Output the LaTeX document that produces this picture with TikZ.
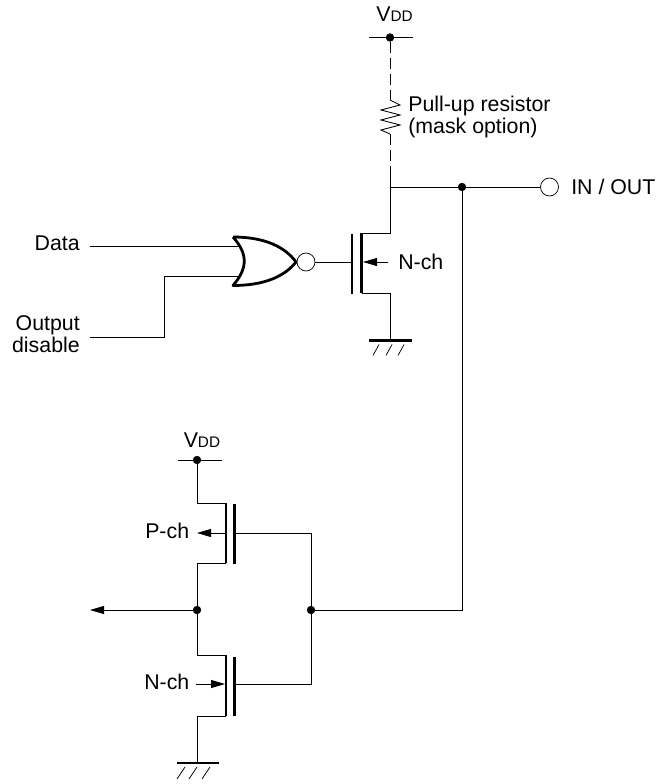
\documentclass[tikz,border=0pt]{standalone}
\usepackage{fontspec}
\setmainfont{Liberation Sans}
\usetikzlibrary{arrows.meta}
\tikzstyle{dot}=[inner sep=0pt, draw, shape=circle, fill=black, minimum size=5.8pt]
\tikzstyle{bubble}=[inner sep=0pt, draw, shape=circle, fill=white, minimum size=13.5pt, line width=0.55pt]
\tikzstyle{lbl}=[inner sep=0pt, font=\fontsize{16}{17}\selectfont]
\tikzstyle{wire}=[line width=0.65pt]
\tikzstyle{heavy}=[line width=2.1pt]
\tikzstyle{hatch}=[line width=0.55pt]
\tikzstyle{opt}=[line width=0.65pt, dash pattern=on 8.5pt off 3.5pt]
\tikzset{>={Triangle[length=10.5pt,width=6pt]}}
\newcommand{\vdd}{V{\fontsize{11.5}{11.5}\selectfont DD}}

\begin{document}
\begin{tikzpicture}[x=0.75pt, y=-0.75pt]
\useasboundingbox (0,0) rectangle (656,784);
% the upper supply and pull-up
\node[dot] (V0) at (390,37.5) {};
\coordinate (V0L) at (369,37.5);
\coordinate (V0R) at (413,37.5);
\coordinate (RT) at (390,100);
\coordinate (RB) at (390,134);
\coordinate (J0) at (390,172);
\node[lbl, anchor=base west] (V0T) at (376,22) {\vdd};
\node[lbl, anchor=base west, align=left] (RL0) at (408,112) {Pull-up resistor};
\node[lbl, anchor=base west, align=left] (RL1) at (408,134) {(mask option)};
% the output line
\coordinate (J1) at (390,187);
\node[dot] (J2) at (462,187) {};
\node[bubble] (IO) at (549.5,187) {};
\node[lbl, anchor=base west] (IOT) at (571,195) {IN / OUT};
% the output transistor
\coordinate (D0) at (390,233);
\coordinate (D0C) at (361.5,233);
\coordinate (S0C) at (361.5,293);
\coordinate (S0) at (390,293);
\coordinate (G0T) at (352,234);
\coordinate (G0B) at (352,293.5);
\coordinate (G0M) at (352,262);
\coordinate (A0) at (388,262);
\coordinate (A0E) at (363,262);
\node[lbl, anchor=base west] (N0T) at (398,269) {N-ch};
% the ground of the output transistor
\coordinate (E0) at (390,340.5);
\coordinate (E0L) at (369,340.5);
\coordinate (E0R) at (412,340.5);
% the gate
\coordinate (OT) at (233,237);
\coordinate (OB) at (233,285.5);
\coordinate (OE) at (296,262);
\node[bubble] (B0) at (306,262) {};
\coordinate (DI) at (90,246);
\coordinate (DE) at (238,246);
\coordinate (DO) at (90,337);
\coordinate (DU) at (164,337);
\coordinate (DV) at (164,276);
\coordinate (DF) at (238,276);
\node[lbl, anchor=base east] (DT) at (80,250) {Data};
\node[lbl, anchor=base east] (OT0) at (80,330) {Output};
\node[lbl, anchor=base east] (OT1) at (80,352) {disable};
% the lower supply and the P-ch transistor
\node[dot] (V1) at (197,460) {};
\coordinate (V1L) at (178,460);
\coordinate (V1R) at (222,460);
\node[lbl, anchor=base west] (V1T) at (183.5,447) {\vdd};
\coordinate (P0) at (197,503);
\coordinate (P0C) at (226,503);
\coordinate (P1C) at (226,563);
\coordinate (P1) at (197,563);
\coordinate (P0M) at (226,533);
\coordinate (P0A) at (197,533);
\coordinate (G1T) at (234.5,504);
\coordinate (G1B) at (234.5,563.5);
\coordinate (G1M) at (234.5,533);
\coordinate (G1E) at (311,533);
\node[lbl, anchor=base west] (PT) at (145,538) {P-ch};
% the input line
\node[dot] (J3) at (197,610) {};
\node[dot] (J4) at (311,610) {};
\coordinate (J5) at (462,610);
\coordinate (OA) at (90,610);
% the N-ch transistor
\coordinate (Q0) at (197,655);
\coordinate (Q0C) at (226,655);
\coordinate (Q1C) at (226,716);
\coordinate (Q1) at (197,716);
\coordinate (Q0A) at (196,684);
\coordinate (Q0M) at (225,684);
\coordinate (G2T) at (234.5,656.5);
\coordinate (G2B) at (234.5,716);
\coordinate (G2M) at (234.5,684);
\coordinate (G2E) at (311,684);
\node[lbl, anchor=base west] (N1T) at (144,689) {N-ch};
% the lower ground
\coordinate (E1) at (197,763);
\coordinate (E1L) at (177,763);
\coordinate (E1R) at (219,763);
% the wires
\draw[wire] (V0L) -- (V0R);
\draw[opt] (V0) -- (RT);
\draw[wire] (RT) -- ++(10,5) -- ++(-19,5) -- ++(19,5) -- ++(-19,5) -- ++(19,5) -- ++(-19,5) -- (RB);
\draw[opt] (RB) -- (J0);
\draw[wire] (J0) -- (D0) -- (D0C);
\draw[wire] (J1) -- (J2) -- (IO);
\draw[wire] (J2) -- (J5) -- (J4);
\draw[wire] (S0C) -- (S0) -- (E0);
\draw[heavy] (D0C) -- (S0C);
\draw[heavy] (G0T) -- (G0B);
\draw[wire] (B0) -- (G0M);
\draw[wire, ->] (A0) -- (A0E);
\draw[heavy] (E0L) -- (E0R);
% the hatching
\draw[hatch] (E0)++(-11,4) -- ++(-6,11);
\draw[hatch] (E0)++(2,4) -- ++(-6,11);
\draw[hatch] (E0)++(14,4) -- ++(-6,11);
\draw[hatch] (E1)++(-12,4) -- ++(-8,12);
\draw[hatch] (E1)++(0,4) -- ++(-8,12);
\draw[hatch] (E1)++(13,4) -- ++(-8,12);
% the gate outline
\draw[heavy, line join=round] (OT) .. controls (265,237) and (285,247) .. (OE) .. controls (285,276) and (265,285.5) .. (OB) .. controls (248,268) and (248,254) .. (OT);
\draw[wire] (DI) -- (DE);
\draw[wire] (DO) -- (DU) -- (DV) -- (DF);
% the lower transistors
\draw[wire] (V1L) -- (V1R);
\draw[wire] (V1) -- (P0) -- (P0C);
\draw[heavy] (P0C) -- (P1C);
\draw[wire] (P1C) -- (P1) -- (J3) -- (Q0) -- (Q0C);
\draw[heavy] (G1T) -- (G1B);
\draw[wire] (G1M) -- (G1E) -- (J4) -- (G2E) -- (G2M);
\draw[wire, ->] (P0M) -- (P0A);
\draw[wire, ->] (J3) -- (OA);
\draw[heavy] (Q0C) -- (Q1C);
\draw[wire] (Q1C) -- (Q1) -- (E1);
\draw[heavy] (G2T) -- (G2B);
\draw[wire, ->] (Q0A) -- (Q0M);
\draw[heavy] (E1L) -- (E1R);
\end{tikzpicture}
\end{document}
